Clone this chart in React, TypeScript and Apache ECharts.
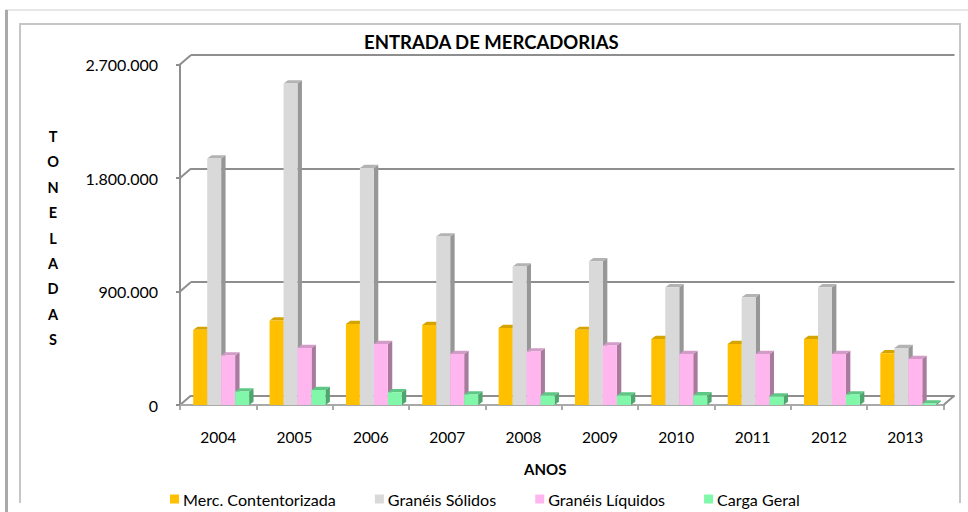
import React, { useEffect, useRef } from "react";
import * as echarts from "echarts";

const YEARS = ["2004", "2005", "2006", "2007", "2008", "2009", "2010", "2011", "2012", "2013"];
const MERC = [596000, 670000, 642000, 635000, 610000, 596000, 523000, 484000, 523000, 411000];
const SOLIDOS = [1955000, 2550000, 1880000, 1336000, 1098000, 1140000, 934000, 855000, 934000, 452000];
const LIQUIDOS = [392000, 452000, 484000, 405000, 424000, 472000, 405000, 405000, 405000, 365000];
const GERAL = [107000, 119000, 101000, 83000, 75000, 75000, 77000, 67000, 83000, 12000];
const SERIES_NAMES = ["Merc. Contentorizada", "Granéis Sólidos", "Granéis Líquidos", "Carga Geral"];
const Y_TICKS = [0, 900000, 1800000, 2700000];

const COLORS = [
  { front: "#FFC000", side: "#C99700", top: "#D6A400" },
  { front: "#D9D9D9", side: "#979797", top: "#B3B3B3" },
  { front: "#FFB6EE", side: "#A87B9E", top: "#D39BC7" },
  { front: "#80F7A9", side: "#4FA56D", top: "#5FC785" },
];

const FL = 180; // front left
const FR = 24.5; // front right margin
const FT = 64.5;
const FB = 107;
const DX = 11;
const DY = -9.5;

function fmt(v: number) {
  return String(v).replace(/\B(?=(\d{3})+(?!\d))/g, ".");
}

function makeRender(si: number) {
  const c = COLORS[si];
  return (params: any, api: any) => {
    const idx = api.value(0);
    const v = api.value(1);
    const base = api.coord([idx, 0]);
    const top = api.coord([idx, v]);
    const bw = api.size([1, 0])[0];
    const w = bw * 0.183;
    const dx = bw * 0.058;
    const dy = 3.2;
    const x0 = base[0] - bw / 2 + bw * 0.173 + si * w;
    const y0 = top[1];
    const y1 = base[1];
    return {
      type: "group",
      children: [
        {
          type: "polygon",
          shape: { points: [[x0 + w, y0], [x0 + w + dx, y0 - dy], [x0 + w + dx, y1 - dy], [x0 + w, y1]] },
          style: { fill: c.side },
        },
        {
          type: "polygon",
          shape: { points: [[x0, y0], [x0 + dx, y0 - dy], [x0 + w + dx, y0 - dy], [x0 + w, y0]] },
          style: { fill: c.top },
        },
        {
          type: "rect",
          shape: { x: x0, y: y0, width: w, height: Math.max(0, y1 - y0) },
          style: { fill: c.front },
        },
      ],
    };
  };
}

export default function App() {
  const ref = useRef<HTMLDivElement>(null);
  useEffect(() => {
    if (!ref.current) return;
    const chart = echarts.init(ref.current, null, { renderer: "svg" });
    const allData = [MERC, SOLIDOS, LIQUIDOS, GERAL];
    const option: any = {
      animation: false,
      backgroundColor: "#ffffff",
      textStyle: { fontFamily: "Lato" },
      title: {
        text: "ENTRADA DE MERCADORIAS",
        left: 364,
        top: 32,
        padding: 0,
        textStyle: { fontFamily: "Lato", fontWeight: "bold", fontSize: 18.5, color: "#000" },
      },
      legend: {
        data: SERIES_NAMES,
        left: 170,
        top: 491,
        padding: 0,
        itemWidth: 9,
        itemHeight: 9,
        itemGap: 39,
        icon: "rect",
        textStyle: { fontFamily: "Lato", fontSize: 16.1, color: "#000", padding: [0, 0, 0, -1] },
      },
      grid: [
        { left: FL, right: FR, top: FT, bottom: FB },
        { left: FL + DX, right: FR - DX, top: FT + DY, bottom: FB - DY },
      ],
      xAxis: [
        {
          type: "category",
          gridIndex: 0,
          data: YEARS,
          offset: 2,
          axisLine: { lineStyle: { color: "#8e8e8e", width: 2 } },
          axisTick: { show: true, length: 5, lineStyle: { color: "#8e8e8e", width: 1.5 } },
          axisLabel: { color: "#000", fontSize: 15.5, margin: 22, fontFamily: "Lato" },
          name: "ANOS",
          nameLocation: "middle",
          nameGap: 54,
          nameTextStyle: {
            fontWeight: "bold",
            fontSize: 15,
            color: "#000",
            fontFamily: "Lato",
            padding: [0, 33, 0, 0],
          },
        },
        {
          type: "category",
          gridIndex: 1,
          data: YEARS,
          show: false,
        },
      ],
      yAxis: [
        {
          type: "value",
          gridIndex: 0,
          min: 0,
          max: 2700000,
          interval: 900000,
          axisLine: { show: true, lineStyle: { color: "#8e8e8e", width: 2 } },
          axisTick: { show: true, length: 4, lineStyle: { color: "#8e8e8e", width: 2 } },
          splitLine: { show: false },
          axisLabel: { color: "#000", fontSize: 16, margin: 22, formatter: (v: number) => fmt(v), fontFamily: "Lato" },
        },
        {
          type: "value",
          gridIndex: 1,
          min: 0,
          max: 2700000,
          interval: 900000,
          axisLine: { show: false },
          axisTick: { show: false },
          axisLabel: { show: false },
          splitLine: { show: true, lineStyle: { color: "#8e8e8e", width: 2 } },
        },
      ],
      series: SERIES_NAMES.map((name, si) => ({
        type: "custom",
        name,
        xAxisIndex: 0,
        yAxisIndex: 0,
        itemStyle: { color: COLORS[si].front },
        renderItem: makeRender(si),
        encode: { x: 0, y: 1 },
        data: allData[si].map((v, i) => [i, v]),
        z: 3,
      })),
    };
    chart.setOption(option);

    const width = 968;
    const frontRightX = width - FR;
    const graphics: any[] = [];
    Y_TICKS.forEach((t) => {
      const y = chart.convertToPixel({ yAxisIndex: 0 }, t) as number;
      graphics.push({
        type: "line",
        shape: { x1: FL, y1: y, x2: FL + DX, y2: y + DY },
        style: { stroke: "#8e8e8e", lineWidth: 2 },
        z: 1,
      });
    });
    const y0 = chart.convertToPixel({ yAxisIndex: 0 }, 0) as number;
    graphics.push({
      type: "line",
      shape: { x1: frontRightX, y1: y0, x2: frontRightX + DX, y2: y0 + DY },
      style: { stroke: "#8e8e8e", lineWidth: 2 },
      z: 1,
    });
    graphics.push({
      type: "line",
      shape: { x1: FL, y1: y0, x2: frontRightX, y2: y0 },
      style: { stroke: "#c4c4c4", lineWidth: 1 },
      z: 1,
    });
    // frames
    graphics.push({
      type: "line",
      shape: { x1: 5, y1: 10, x2: 968, y2: 10 },
      style: { stroke: "#e6e6e6", lineWidth: 2 },
    });
    graphics.push({
      type: "line",
      shape: { x1: 6.5, y1: 10, x2: 6.5, y2: 512 },
      style: { stroke: "#a9a9a9", lineWidth: 3 },
    });
    graphics.push({
      type: "polyline",
      shape: { points: [[20, 503], [20, 24], [960, 24], [960, 503]] },
      style: { stroke: "#c6c6c6", lineWidth: 2, fill: null },
    });
    graphics.push({
      type: "text",
      style: {
        text: "T\nO\nN\nE\nL\nA\nD\nA\nS",
        x: 53,
        y: 238,
        align: "center",
        verticalAlign: "middle",
        lineHeight: 25.4,
        font: "bold 14.5px Lato",
        fill: "#000",
      },
    });
    chart.setOption({ graphic: graphics });

    return () => chart.dispose();
  }, []);
  return (
    <div
      ref={ref}
      style={{ position: "fixed", left: 0, top: 0, width: 968, height: 512 }}
    />
  );
}
